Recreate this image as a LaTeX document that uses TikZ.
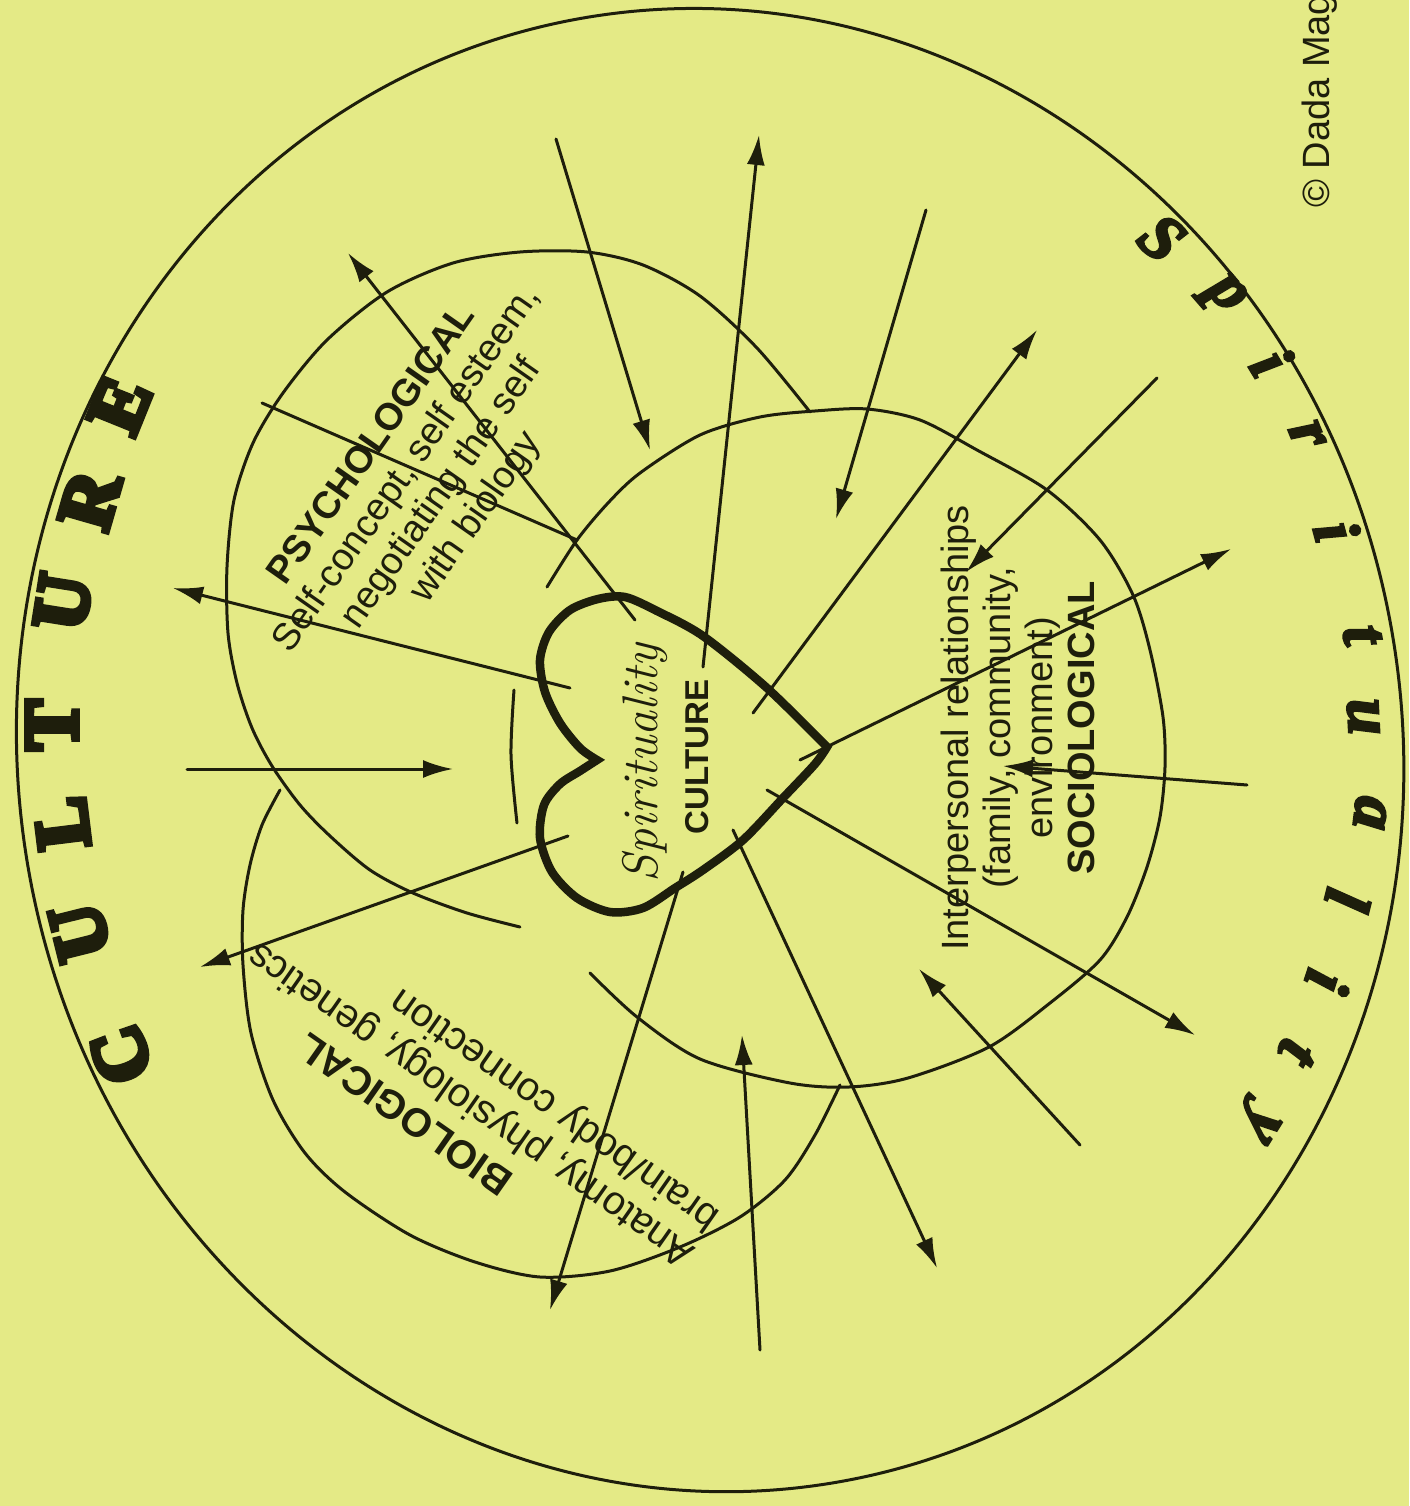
\documentclass[tikz,border=0pt]{standalone}
\usepackage{fontspec}
\newfontfamily\sansf{Liberation Sans}
\newfontfamily\serifb{Liberation Serif}[BoldFeatures={FakeBold=8},BoldItalicFeatures={FakeBold=4}]
\usetikzlibrary{arrows.meta}
\definecolor{bg}{RGB}{228,234,134}
\definecolor{ink}{RGB}{30,30,12}
\begin{document}
\begin{tikzpicture}[x=1pt,y=-1pt,
  ln/.style={draw=ink,line width=3pt,line cap=round,line join=round},
  arr/.style={ln,-{Latex[length=30pt,width=18pt]}},
  heartline/.style={draw=ink,line width=8.5pt,line join=miter},
  body/.style={font=\sansf\fontsize{38}{42}\selectfont,text=ink,inner sep=0pt},
  biobody/.style={font=\sansf\fontsize{40}{44}\selectfont,text=ink,inner sep=0pt},
  bigletter/.style={font=\serifb\bfseries\fontsize{76}{76}\selectfont,text=ink,inner sep=0pt},
  spletter/.style={font=\serifb\bfseries\itshape\fontsize{65}{65}\selectfont,text=ink,inner sep=0pt}
]
\useasboundingbox (0,0) rectangle (1409,1506);
\fill[bg] (0,0) rectangle (1409,1506);

% outer boundary
\coordinate (oc) at (710,750);
\draw[ln,rotate around={10:(oc)}] (oc) ellipse [x radius=692, y radius=743];

% psychological arc
\draw[ln] plot[smooth] coordinates {(520,927) (467,913) (413,893) (370,870) (330,836) (300,805) (272,766) (252,728) (237,683) (228,633) (227,567) (234,500) (253,443) (283,393) (327,340) (387,292) (453,263) (520,252) (587,252) (643,265) (700,296) (757,348) (810,412)};
% sociological arc
\draw[ln] plot[smooth] coordinates {(547,587) (577,540) (608,503) (640,473) (700,435) (760,417) (815,411) (867,409) (920,420) (977,450) (1047,490) (1100,540) (1133,595) (1150,650) (1163,717) (1165,767) (1160,817) (1147,867) (1127,917) (1100,960) (1050,1003) (989,1047) (908,1078) (849,1087) (790,1083) (700,1059) (637,1017) (590,973)};
\draw[ln] plot[smooth] coordinates {(514,690) (511,755) (517,823)};
% biological arc
\draw[ln] plot[smooth] coordinates {(280,790) (262,825) (250,865) (243,910) (243,965) (251,1033) (273,1100) (305,1153) (345,1192) (410,1235) (475,1262) (540,1277) (610,1271) (680,1247) (740,1217) (785,1180) (815,1135) (840,1085)};

% arrow end points
\coordinate (at) at (556,139);  \coordinate (ah) at (650,450);
\coordinate (bt) at (703,667);  \coordinate (bh) at (759,135);
\coordinate (ct) at (926,210);  \coordinate (ch) at (836,519);
\coordinate (dt) at (753,713);  \coordinate (dh) at (1037,330);
\coordinate (et) at (1157,378); \coordinate (eh) at (966,572);
\coordinate (ft) at (800,760);  \coordinate (fh) at (1231,549);
\coordinate (gt) at (1247,785); \coordinate (gh) at (1003,766);
\coordinate (ht) at (767,790);  \coordinate (hh) at (1195,1035);
\coordinate (it) at (1080,1145);\coordinate (ih) at (919,969);
\coordinate (jt) at (733,830);  \coordinate (jh) at (937,1268);
\coordinate (kt) at (760,1350); \coordinate (kh) at (742,1035);
\coordinate (lt) at (683,872);  \coordinate (lh) at (550,1310);
\coordinate (mt) at (568,836);  \coordinate (mh) at (200,967);
\coordinate (nt) at (187,769);  \coordinate (nh) at (453,769);
\coordinate (ot) at (570,688);  \coordinate (oh) at (173,588);
\coordinate (pt) at (635,620);  \coordinate (ph) at (348,253);
\coordinate (qt) at (262,403);  \coordinate (qh) at (577,540);

\foreach \s in {a,b,c,d,e,f,g,h,i,j,k,l,m,n,o,p}{\draw[arr] (\s t) -- (\s h);}
\draw[ln] (qt) -- (qh);

% heart
\draw[heartline] plot[smooth] coordinates {(597,760) (580,748) (560,723) (545,692) (540,660) (549,632) (570,610) (598,599) (625,597) (657,611) (703,636) (767,688) (827,747)}
  -- plot[smooth] coordinates {(827,747) (815,764) (783,798) (743,840) (703,870) (675,888) (643,908) (610,912) (577,898) (552,872) (540,838) (544,805) (560,784) (580,771) (597,760)} -- cycle;
\node[rotate=90,font=\itshape\fontsize{50}{50}\selectfont,text=ink,inner sep=0pt] (spir) at (645,763) {Spirituality};
\node[rotate=90,font=\sansf\bfseries\fontsize{33}{33}\selectfont,text=ink,inner sep=0pt] (cul) at (697,757) {CULTURE};

% region texts
\node[body,rotate=55,align=center] (psy) at (425,482) {\textbf{PSYCHOLOGICAL}\\Self-concept, self esteem,\\negotiating the self\\with biology};
\node[body,rotate=90,align=center] (soc) at (1018,728) {Interpersonal relationships\\(family, community,\\environment)\\\textbf{SOCIOLOGICAL}};
\node[biobody,rotate=145,align=left] (bio) at (472,1103) {\hspace*{190pt}\textbf{BIOLOGICAL}\\Anatomy, physiology, genetics\\brain/body connection};

% CULTURE around the left
\node[bigletter,rotate=110] (cu1) at (121,1055) {C};
\node[bigletter,rotate=104] (cu2) at (80,932) {U};
\node[bigletter,rotate=97]  (cu3) at (62,823) {L};
\node[bigletter,rotate=90]  (cu4) at (52,725) {T};
\node[bigletter,rotate=81]  (cu5) at (63,602) {U};
\node[bigletter,rotate=74]  (cu6) at (90,500) {R};
\node[bigletter,rotate=68]  (cu7) at (120,405) {E};

% Spirituality around the right
\node[spletter,rotate=-42]  (sp1) at (1162,238) {S};
\node[spletter,rotate=-49]  (sp2) at (1223,297) {p};
\node[spletter,rotate=-59]  (sp3) at (1272,362) {i};
\node[spletter,rotate=-68]  (sp4) at (1307,435) {r};
\node[spletter,rotate=-75]  (sp5) at (1337,531) {i};
\node[spletter,rotate=-80]  (sp6) at (1362,635) {t};
\node[spletter,rotate=-87]  (sp7) at (1363,717) {u};
\node[spletter,rotate=-97]  (sp8) at (1370,813) {a};
\node[spletter,rotate=-104] (sp9) at (1348,900) {l};
\node[spletter,rotate=-108] (sp10) at (1328,982) {i};
\node[spletter,rotate=-117] (sp11) at (1297,1052) {t};
\node[spletter,rotate=-122] (sp12) at (1256,1122) {y};

% copyright
\node[font=\sansf\fontsize{38}{38}\selectfont,text=ink,inner sep=0pt,rotate=90,anchor=west] (copy) at (1320,208) {© Dada Mag};
\end{tikzpicture}
\end{document}
